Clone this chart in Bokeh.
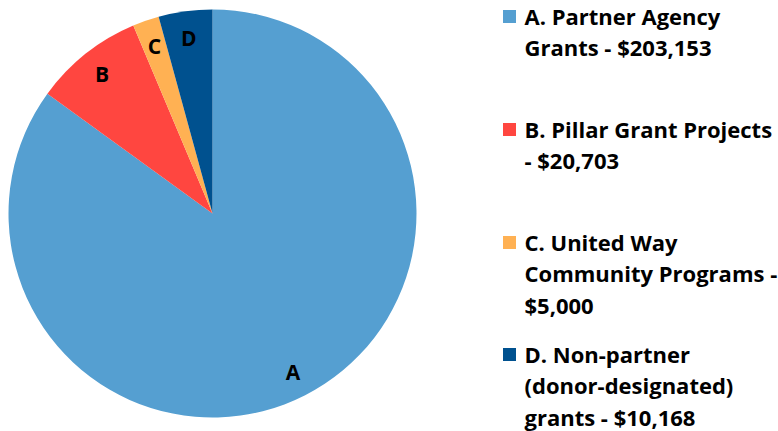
import math
from bokeh.plotting import figure
from bokeh.models import Range1d, ColumnDataSource
from bokeh.core.properties import value
from bokeh.embed import file_html
from bokeh.resources import INLINE

# ---- data ----
letters = ["A", "B", "C", "D"]
amounts = [203153, 20703, 5000, 10168]
legend_lines = [
    ["A. Partner Agency", "Grants - $203,153"],
    ["B. Pillar Grant Projects", "- $20,703"],
    ["C. United Way", "Community Programs -", "$5,000"],
    ["D. Non-partner", "(donor-designated)", "grants - $10,168"],
]
colors = ["#559FD1", "#FF4640", "#FFB153", "#00518F"]

W, H = 778, 431
p = figure(width=W, height=H, output_backend="svg", toolbar_location=None,
           x_range=Range1d(0, W), y_range=Range1d(0, H), min_border=0,
           outline_line_color=None)
p.axis.visible = False
p.grid.visible = False
p.background_fill_color = "white"

FONT = "Open Sans"
cx, cy, R = 212, H - 213, 204
total = sum(amounts)
starts, ends, lx, ly = [], [], [], []
cum = 0.0
for a in amounts:
    f0 = cum / total
    cum += a
    f1 = cum / total
    starts.append(math.pi / 2 - 2 * math.pi * f0)
    ends.append(math.pi / 2 - 2 * math.pi * f1)
    mid = (f0 + f1) / 2 * 2 * math.pi
    lr = 0.87 * R
    lx.append(cx + lr * math.sin(mid))
    ly.append(cy + lr * math.cos(mid))

src = ColumnDataSource(dict(start=starts, end=ends, color=colors, lx=lx, ly=ly, t=letters))
p.wedge(x=cx, y=cy, radius=R, start_angle="start", end_angle="end", direction="clock",
        fill_color="color", line_color=None, source=src)
p.text(x="lx", y="ly", text="t", source=src, text_font=value(FONT), text_font_style="bold",
       text_font_size="21px", text_align="center", text_baseline="middle", text_color="black")

# legend
first_line_y = [15, 128, 241, 353]
line_gap = 31.5
sq_x, tx = 509, 524
for i, lines in enumerate(legend_lines):
    y0 = first_line_y[i]
    p.rect(x=sq_x, y=H - (y0 + 1), width=13, height=13, fill_color=colors[i], line_color=None)
    ys = [H - (y0 + k * line_gap) for k in range(len(lines))]
    p.text(x=[tx] * len(lines), y=ys, text=lines, text_font=value(FONT), text_font_style="bold",
           text_font_size="22px", text_align="left", text_baseline="middle", text_color="black")

open("out.html", "w").write(file_html(p, INLINE))
